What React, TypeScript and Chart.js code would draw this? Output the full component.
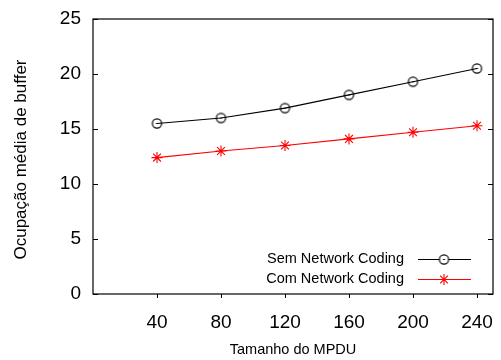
import React, { useEffect, useRef } from "react";
import { Chart, registerables } from "chart.js";

Chart.register(...registerables);

// MPDU sizes on the x axis
const mpduSizes = [40, 80, 120, 160, 200, 240];
// Mean buffer occupancy for each configuration
const semNetworkCoding = [15.5, 16.0, 16.9, 18.1, 19.3, 20.5];
const comNetworkCoding = [12.4, 13.0, 13.5, 14.1, 14.7, 15.3];
const yTicks = [0, 5, 10, 15, 20, 25];
const seriesLabels = ["Sem Network Coding", "Com Network Coding"];
const xTitle = "Tamanho do MPDU";
const yTitle = "Ocupação média de buffer";

const FONT = '"Liberation Sans", Arial, Helvetica, sans-serif';

// open circle with a small centre mark
function makeCircleMarker(): HTMLCanvasElement {
  const c = document.createElement("canvas");
  c.width = 13;
  c.height = 13;
  const g = c.getContext("2d")!;
  g.strokeStyle = "#000";
  g.lineWidth = 1.2;
  g.beginPath();
  g.arc(6.5, 6.5, 4.6, 0, Math.PI * 2);
  g.stroke();
  g.fillStyle = "#000";
  g.fillRect(5.5, 6, 2, 1);
  return c;
}

function drawStar(ctx: CanvasRenderingContext2D, x: number, y: number, r: number) {
  const d = r * Math.SQRT1_2;
  ctx.beginPath();
  ctx.moveTo(x - r, y);
  ctx.lineTo(x + r, y);
  ctx.moveTo(x, y - r);
  ctx.lineTo(x, y + r);
  ctx.moveTo(x - d, y - d);
  ctx.lineTo(x + d, y + d);
  ctx.moveTo(x - d, y + d);
  ctx.lineTo(x + d, y - d);
  ctx.stroke();
}

export default function App() {
  const ref = useRef<HTMLCanvasElement | null>(null);

  useEffect(() => {
    document.body.style.margin = "0";
    const canvas = ref.current;
    if (!canvas) return;
    const circle = makeCircleMarker();

    const framePlugin = {
      id: "frame",
      afterDraw(chart: any) {
        const { ctx, chartArea } = chart;
        const { left, top, right, bottom } = chartArea;
        const xs = chart.scales.x;
        const ys = chart.scales.y;
        ctx.save();
        ctx.strokeStyle = "#000";
        ctx.lineWidth = 1.2;
        ctx.strokeRect(left, top, right - left, bottom - top);

        // y ticks, inward on both sides
        ctx.lineWidth = 1;
        ctx.beginPath();
        yTicks.forEach((v) => {
          const py = Math.round(ys.getPixelForValue(v)) + 0.5;
          ctx.moveTo(left, py);
          ctx.lineTo(left + 5, py);
          ctx.moveTo(right, py);
          ctx.lineTo(right - 5, py);
        });
        // x ticks, outward
        mpduSizes.forEach((v) => {
          const px = Math.round(xs.getPixelForValue(v)) + 0.5;
          ctx.moveTo(px, bottom);
          ctx.lineTo(px, bottom + 4);
        });
        ctx.stroke();

        // axis titles
        ctx.fillStyle = "#000";
        ctx.textAlign = "center";
        ctx.textBaseline = "middle";
        ctx.font = `14.5px ${FONT}`;
        ctx.fillText(xTitle, (left + right) / 2, 350);
        ctx.save();
        ctx.font = `17px ${FONT}`;
        ctx.translate(21, 159.5);
        ctx.rotate(-Math.PI / 2);
        ctx.fillText(yTitle, 0, 0);
        ctx.restore();

        // legend
        ctx.font = `14.5px ${FONT}`;
        const textRight = 404;
        const x0 = 418;
        const x1 = 471;
        const mx = 444;
        const rows = [259, 279];
        ctx.textAlign = "right";
        rows.forEach((ry, i) => {
          ctx.fillStyle = "#000";
          ctx.fillText(seriesLabels[i], textRight, ry);
          ctx.strokeStyle = i === 0 ? "#000" : "#ff0000";
          ctx.lineWidth = 1.1;
          ctx.beginPath();
          ctx.moveTo(x0, ry + 0.5);
          ctx.lineTo(x1, ry + 0.5);
          ctx.stroke();
          if (i === 0) {
            ctx.fillStyle = "#fff";
            ctx.beginPath();
            ctx.arc(mx, ry + 0.5, 4.6, 0, Math.PI * 2);
            ctx.fill();
            ctx.drawImage(circle, mx - 6.5, ry + 0.5 - 6.5);
          } else {
            ctx.strokeStyle = "#ff0000";
            drawStar(ctx, mx, ry + 0.5, 5.5);
          }
        });
        ctx.restore();
      },
    };

    const chart = new Chart(canvas, {
      type: "scatter",
      data: {
        datasets: [
          {
            label: seriesLabels[0],
            data: mpduSizes.map((x, i) => ({ x, y: semNetworkCoding[i] })),
            showLine: true,
            borderColor: "#000",
            borderWidth: 1.1,
            pointStyle: circle as any,
            pointRadius: 5,
            backgroundColor: "#fff",
          },
          {
            label: seriesLabels[1],
            data: mpduSizes.map((x, i) => ({ x, y: comNetworkCoding[i] })),
            showLine: true,
            borderColor: "#ff0000",
            borderWidth: 1.1,
            pointStyle: "star",
            pointRadius: 5.5,
            pointBorderColor: "#ff0000",
            pointBorderWidth: 1.1,
            backgroundColor: "#ff0000",
          },
        ],
      },
      options: {
        responsive: false,
        animation: false,
        devicePixelRatio: 1,
        layout: { padding: { top: 19, right: 8, left: 0, bottom: 0 } },
        plugins: {
          legend: { display: false },
          tooltip: { enabled: false },
        },
        scales: {
          x: {
            type: "linear",
            min: 0,
            max: 250,
            afterBuildTicks: (scale: any) => {
              scale.ticks = mpduSizes.map((v) => ({ value: v }));
            },
            afterFit: (scale: any) => {
              scale.height = 66;
              scale.paddingLeft = 0;
              scale.paddingRight = 0;
            },
            grid: { display: false, drawTicks: false },
            border: { display: false },
            ticks: {
              color: "#000",
              font: { family: FONT, size: 19 },
              padding: 17,
              maxRotation: 0,
              autoSkip: false,
            },
          },
          y: {
            type: "linear",
            min: 0,
            max: 25,
            afterBuildTicks: (scale: any) => {
              scale.ticks = yTicks.map((v) => ({ value: v }));
            },
            afterFit: (scale: any) => {
              scale.width = 93;
              scale.paddingTop = 0;
              scale.paddingBottom = 0;
            },
            grid: { display: false, drawTicks: false },
            border: { display: false },
            ticks: {
              color: "#000",
              font: { family: FONT, size: 19 },
              padding: 12,
            },
          },
        },
      },
      plugins: [framePlugin],
    } as any);

    return () => chart.destroy();
  }, []);

  return <canvas ref={ref} width={501} height={360} style={{ display: "block" }} />;
}
